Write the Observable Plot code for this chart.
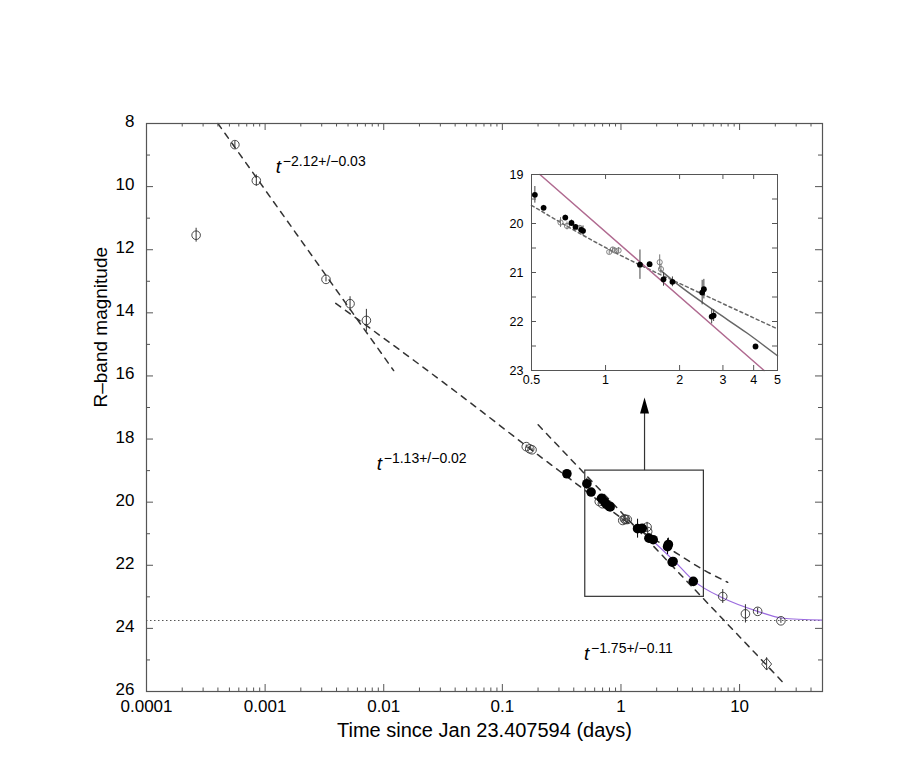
<!DOCTYPE html>
<html><head><meta charset="utf-8">
<script src="https://cdn.jsdelivr.net/npm/d3@7"></script>
<script src="https://cdn.jsdelivr.net/npm/@observablehq/plot@0.6"></script>
<style>
body{margin:0;background:#fff;}
#wrap{position:relative;width:913px;height:765px;background:#fff;}
#wrap svg{font-family:"Liberation Sans",Arial,Helvetica,sans-serif;}
.inset{position:absolute;left:491px;top:164px;}
</style></head><body><div id="wrap"></div>
<script>
// ---------- data ----------
// filled points (t days, R mag, error)
const filledT   = [0.35, 0.516, 0.56, 0.686, 0.727, 0.755, 0.796, 0.81, 1.38, 1.51, 1.72, 1.87, 2.47, 2.51, 2.70, 2.75, 4.07];
const filledMag = [19.10, 19.415, 19.68, 19.88, 19.99, 20.07, 20.13, 20.15, 20.84, 20.83, 21.14, 21.19, 21.41, 21.34, 21.90, 21.88, 22.51];
const filledErr = [0.08, 0.17, 0.05, 0.05, 0.06, 0.04, 0.06, 0.1, 0.3, 0.04, 0.14, 0.1, 0.25, 0.2, 0.15, 0.12, 0.04];
// open points
const openT   = [0.000262, 0.000556, 0.000843, 0.00326, 0.0052, 0.00714, 0.159, 0.170, 0.178, 0.656, 0.697, 0.786, 1.035, 1.07, 1.09, 1.13, 1.66, 1.68, 7.21, 11.2, 14.2, 22.3];
const openMag = [11.54, 8.67, 9.81, 12.94, 13.71, 14.24, 18.24, 18.31, 18.34, 19.98, 20.05, 20.09, 20.58, 20.53, 20.55, 20.55, 20.79, 20.93, 22.99, 23.54, 23.46, 23.76];
const openErr = [0.22, 0.1, 0.18, 0.08, 0.22, 0.35, 0.05, 0.05, 0.05, 0.1, 0.08, 0.05, 0.05, 0.04, 0.04, 0.06, 0.15, 0.1, 0.22, 0.29, 0.1, 0.08];
// diamond point
const diamondT = [16.9], diamondMag = [25.13], diamondErr = [0.2];
// host galaxy level
const hostMag = [23.75];
// fit lines
const fitEarlyT = [0.0004, 0.01213],  fitEarlyMag = [8.0, 15.83];
const fitMidT   = [0.00394, 0.018, 0.0508, 0.17, 0.5, 1.016, 2.5, 5, 7.94];
const fitMidMag = [13.70, 15.51, 16.78, 18.30, 19.63, 20.51, 21.45, 22.15, 22.54];
const fitLateT  = [0.2004, 23.2],     fitLateMag = [17.55, 25.71];
const hostCurveT   = [1.91, 2.82, 4.16, 7.16, 14.2, 22.4, 50];
const hostCurveMag = [21.27, 21.87, 22.51, 23.03, 23.46, 23.67, 23.74];
// inset lines
const insetSteepT = [0.541, 4.41], insetSteepMag = [19.0, 23.0];
const insetCurveT = [1.67, 2.02, 2.75, 3.77, 5.0], insetCurveMag = [20.95, 21.29, 21.77, 22.24, 22.70];
const insetDotT = [0.5, 1.016, 2.5, 5], insetDotMag = [19.63, 20.51, 21.45, 22.15];
// zoom box and arrow
const boxT = [0.5, 5], boxMag = [19, 23];
const arrowT = [1.58], arrowMag = [19, 17.19];
// axes
const xDomain = [0.0001, 50], yDomain = [8, 26];
const xTickLabels = [0.0001, 0.001, 0.01, 0.1, 1, 10];
const yTickLabels = [8, 10, 12, 14, 16, 18, 20, 22, 24, 26];
const insetXDomain = [0.5, 5], insetYDomain = [19, 23];
const insetXLabels = [0.5, 1, 2, 3, 4, 5];
const insetYLabels = [19, 20, 21, 22, 23];
// annotations
const annT   = [0.00123, 0.00873, 0.488];
const annMag = [9.36, 18.78, 24.80];
const annExp = ["\u22122.12+/\u22120.03", "\u22121.13+/\u22120.02", "\u22121.75+/\u22120.11"];
const xTitle = "Time since Jan 23.407594 (days)";
const yTitle = "R\u2013band magnitude";

// ---------- build ----------
const rows = (T, M, E) => T.map((t, i) => ({t, m: M[i], e: E ? E[i] : 0}));
const filled = rows(filledT, filledMag, filledErr);
const open = rows(openT, openMag, openErr);
const diamond = rows(diamondT, diamondMag, diamondErr);
const fitEarly = rows(fitEarlyT, fitEarlyMag);
const fitMid = rows(fitMidT, fitMidMag);
const fitLate = rows(fitLateT, fitLateMag);
const hostCurve = rows(hostCurveT, hostCurveMag);
const ann = annT.map((t, i) => ({t, m: annMag[i], s: annExp[i]}));
const insetFilled = filled.filter(d => d.t >= 0.5 && d.t <= 5);
const insetOpen = open.filter(d => d.t >= 0.5 && d.t <= 5);

function minorLogTicks(lo, hi) {
  const out = [];
  for (let k = Math.floor(Math.log10(lo)); k <= Math.ceil(Math.log10(hi)); k++)
    for (let j = 2; j <= 9; j++) { const v = j * Math.pow(10, k); if (v > lo && v < hi) out.push(v); }
  return out;
}
const xMinor = minorLogTicks(xDomain[0], xDomain[1]);
const yMinor = d3.range(9, 26, 2);

const W = 913, H = 765, mL = 146, mR = 91, mT = 123, mB = 74;
const fH = H - mT - mB, fW = W - mL - mR;
const axisCol = "#555", lineCol = "#333";
const dash = "6,6";
const head = {draw(ctx) { ctx.moveTo(0, -16); ctx.lineTo(4.5, 0); ctx.lineTo(-4.5, 0); ctx.closePath(); }};
const diamondSym = {draw(ctx) { ctx.moveTo(0, -6); ctx.lineTo(5, 0); ctx.lineTo(0, 6); ctx.lineTo(-5, 0); ctx.closePath(); }};

const main = Plot.plot({
  width: W, height: H, marginLeft: mL, marginRight: mR, marginTop: mT, marginBottom: mB,
  x: {type: "log", domain: xDomain},
  y: {domain: yDomain, reverse: true},
  style: {fontSize: "17px", color: "#000", background: "transparent"},
  marks: [
    Plot.ruleY(hostMag, {stroke: "#555", strokeDasharray: "1.5,2.5"}),
    Plot.line(fitEarly, {x: "t", y: "m", stroke: lineCol, strokeDasharray: dash}),
    Plot.line(fitMid, {x: "t", y: "m", stroke: lineCol, strokeDasharray: dash, curve: "monotone-x"}),
    Plot.line(fitLate, {x: "t", y: "m", stroke: lineCol, strokeDasharray: dash}),
    Plot.line(hostCurve, {x: "t", y: "m", stroke: "#9b6bdf", strokeWidth: 1.2, curve: "monotone-x"}),
    Plot.rect([{}], {x1: () => boxT[0], x2: () => boxT[1], y1: () => boxMag[0], y2: () => boxMag[1], fill: "none", stroke: lineCol, strokeWidth: 1.2}),
    Plot.ruleX(arrowT, {x: d => d, y1: () => arrowMag[0], y2: () => arrowMag[1], stroke: lineCol, strokeWidth: 1.2}),
    Plot.dot(arrowT, {x: d => d, y: () => arrowMag[1], symbol: head, fill: "#000", stroke: "none"}),
    Plot.ruleX(open, {x: "t", y1: d => d.m - d.e, y2: d => d.m + d.e, stroke: lineCol}),
    Plot.dot(open, {x: "t", y: "m", r: 4.3, fill: "none", stroke: lineCol, strokeWidth: 0.9}),
    Plot.ruleX(diamond, {x: "t", y1: d => d.m - d.e, y2: d => d.m + d.e, stroke: lineCol}),
    Plot.dot(diamond, {x: "t", y: "m", symbol: diamondSym, fill: "none", stroke: lineCol, strokeWidth: 0.9}),
    Plot.ruleX(filled, {x: "t", y1: d => d.m - d.e, y2: d => d.m + d.e, stroke: "#000"}),
    Plot.dot(filled, {x: "t", y: "m", r: 4.8, fill: "#000", stroke: "none"}),
    // inward ticks on all four sides
    Plot.tickX(xTickLabels, {x: d => d, insetTop: fH - 7, stroke: axisCol}),
    Plot.tickX(xTickLabels, {x: d => d, insetBottom: fH - 7, stroke: axisCol}),
    Plot.tickX(xMinor, {x: d => d, insetTop: fH - 3.5, stroke: axisCol}),
    Plot.tickX(xMinor, {x: d => d, insetBottom: fH - 3.5, stroke: axisCol}),
    Plot.tickY(yTickLabels, {y: d => d, insetRight: fW - 7, stroke: axisCol}),
    Plot.tickY(yTickLabels, {y: d => d, insetLeft: fW - 7, stroke: axisCol}),
    Plot.tickY(yMinor, {y: d => d, insetRight: fW - 4, stroke: axisCol}),
    Plot.tickY(yMinor, {y: d => d, insetLeft: fW - 4, stroke: axisCol}),
    Plot.axisX({ticks: xTickLabels, tickSize: 0, tickPadding: 8, tickFormat: d => String(d), label: null}),
    Plot.axisY({ticks: yTickLabels, tickSize: 0, tickPadding: 12, label: null, dy: -2}),
    Plot.frame({stroke: axisCol, strokeWidth: 1.2}),
    Plot.text([xTitle], {frameAnchor: "bottom", dy: 45, text: d => d, fontSize: 20}),
    Plot.text([yTitle], {frameAnchor: "left", dx: -46, rotate: -90, text: d => d, fontSize: 19}),
    Plot.text(ann, {x: "t", y: "m", text: () => "t", fontStyle: "italic", fontSize: 19, textAnchor: "start"}),
    Plot.text(ann, {x: "t", y: "m", text: "s", fontSize: 14, textAnchor: "start", dx: 7, dy: -5})
  ]
});

const iL = 40, iT = 10, iR = 10, iB = 24, iFW = 246, iFH = 196;
const inset = Plot.plot({
  width: iL + iFW + iR, height: iT + iFH + iB,
  marginLeft: iL, marginTop: iT, marginRight: iR, marginBottom: iB,
  x: {type: "log", domain: insetXDomain},
  y: {domain: insetYDomain, reverse: true},
  style: {fontSize: "12.5px", color: "#000", background: "transparent"},
  marks: [
    Plot.line(rows(insetDotT, insetDotMag), {x: "t", y: "m", stroke: "#666", strokeDasharray: "3,3", curve: "monotone-x"}),
    Plot.line(rows(insetCurveT, insetCurveMag), {x: "t", y: "m", stroke: "#666", curve: "monotone-x"}),
    Plot.line(rows(insetSteepT, insetSteepMag), {x: "t", y: "m", stroke: "#b06a90"}),
    Plot.ruleX(insetOpen, {x: "t", y1: d => d.m - d.e, y2: d => d.m + d.e, stroke: "#777"}),
    Plot.dot(insetOpen, {x: "t", y: "m", r: 2.6, fill: "none", stroke: "#777", strokeWidth: 0.9}),
    Plot.ruleX(insetFilled, {x: "t", y1: d => d.m - d.e, y2: d => d.m + d.e, stroke: "#444"}),
    Plot.dot(insetFilled, {x: "t", y: "m", r: 2.9, fill: "#000", stroke: "none"}),
    Plot.tickX(insetXLabels.slice(1, -1), {x: d => d, insetTop: iFH - 5, stroke: axisCol}),
    Plot.tickX(insetXLabels.slice(1, -1), {x: d => d, insetBottom: iFH - 5, stroke: axisCol}),
    Plot.tickY(d3.range(19.5, 23, 0.5), {y: d => d, insetRight: iFW - 5, stroke: axisCol}),
    Plot.tickY(d3.range(19.5, 23, 0.5), {y: d => d, insetLeft: iFW - 5, stroke: axisCol}),
    Plot.axisX({ticks: insetXLabels, tickSize: 0, tickPadding: 5, tickFormat: d => String(d), label: null}),
    Plot.axisY({ticks: insetYLabels, tickSize: 0, tickPadding: 8, tickFormat: d => String(d), label: null}),
    Plot.frame({stroke: axisCol})
  ]
});
inset.classList.add("inset");
const wrap = document.getElementById("wrap");
wrap.appendChild(main);
wrap.appendChild(inset);
</script></body></html>
